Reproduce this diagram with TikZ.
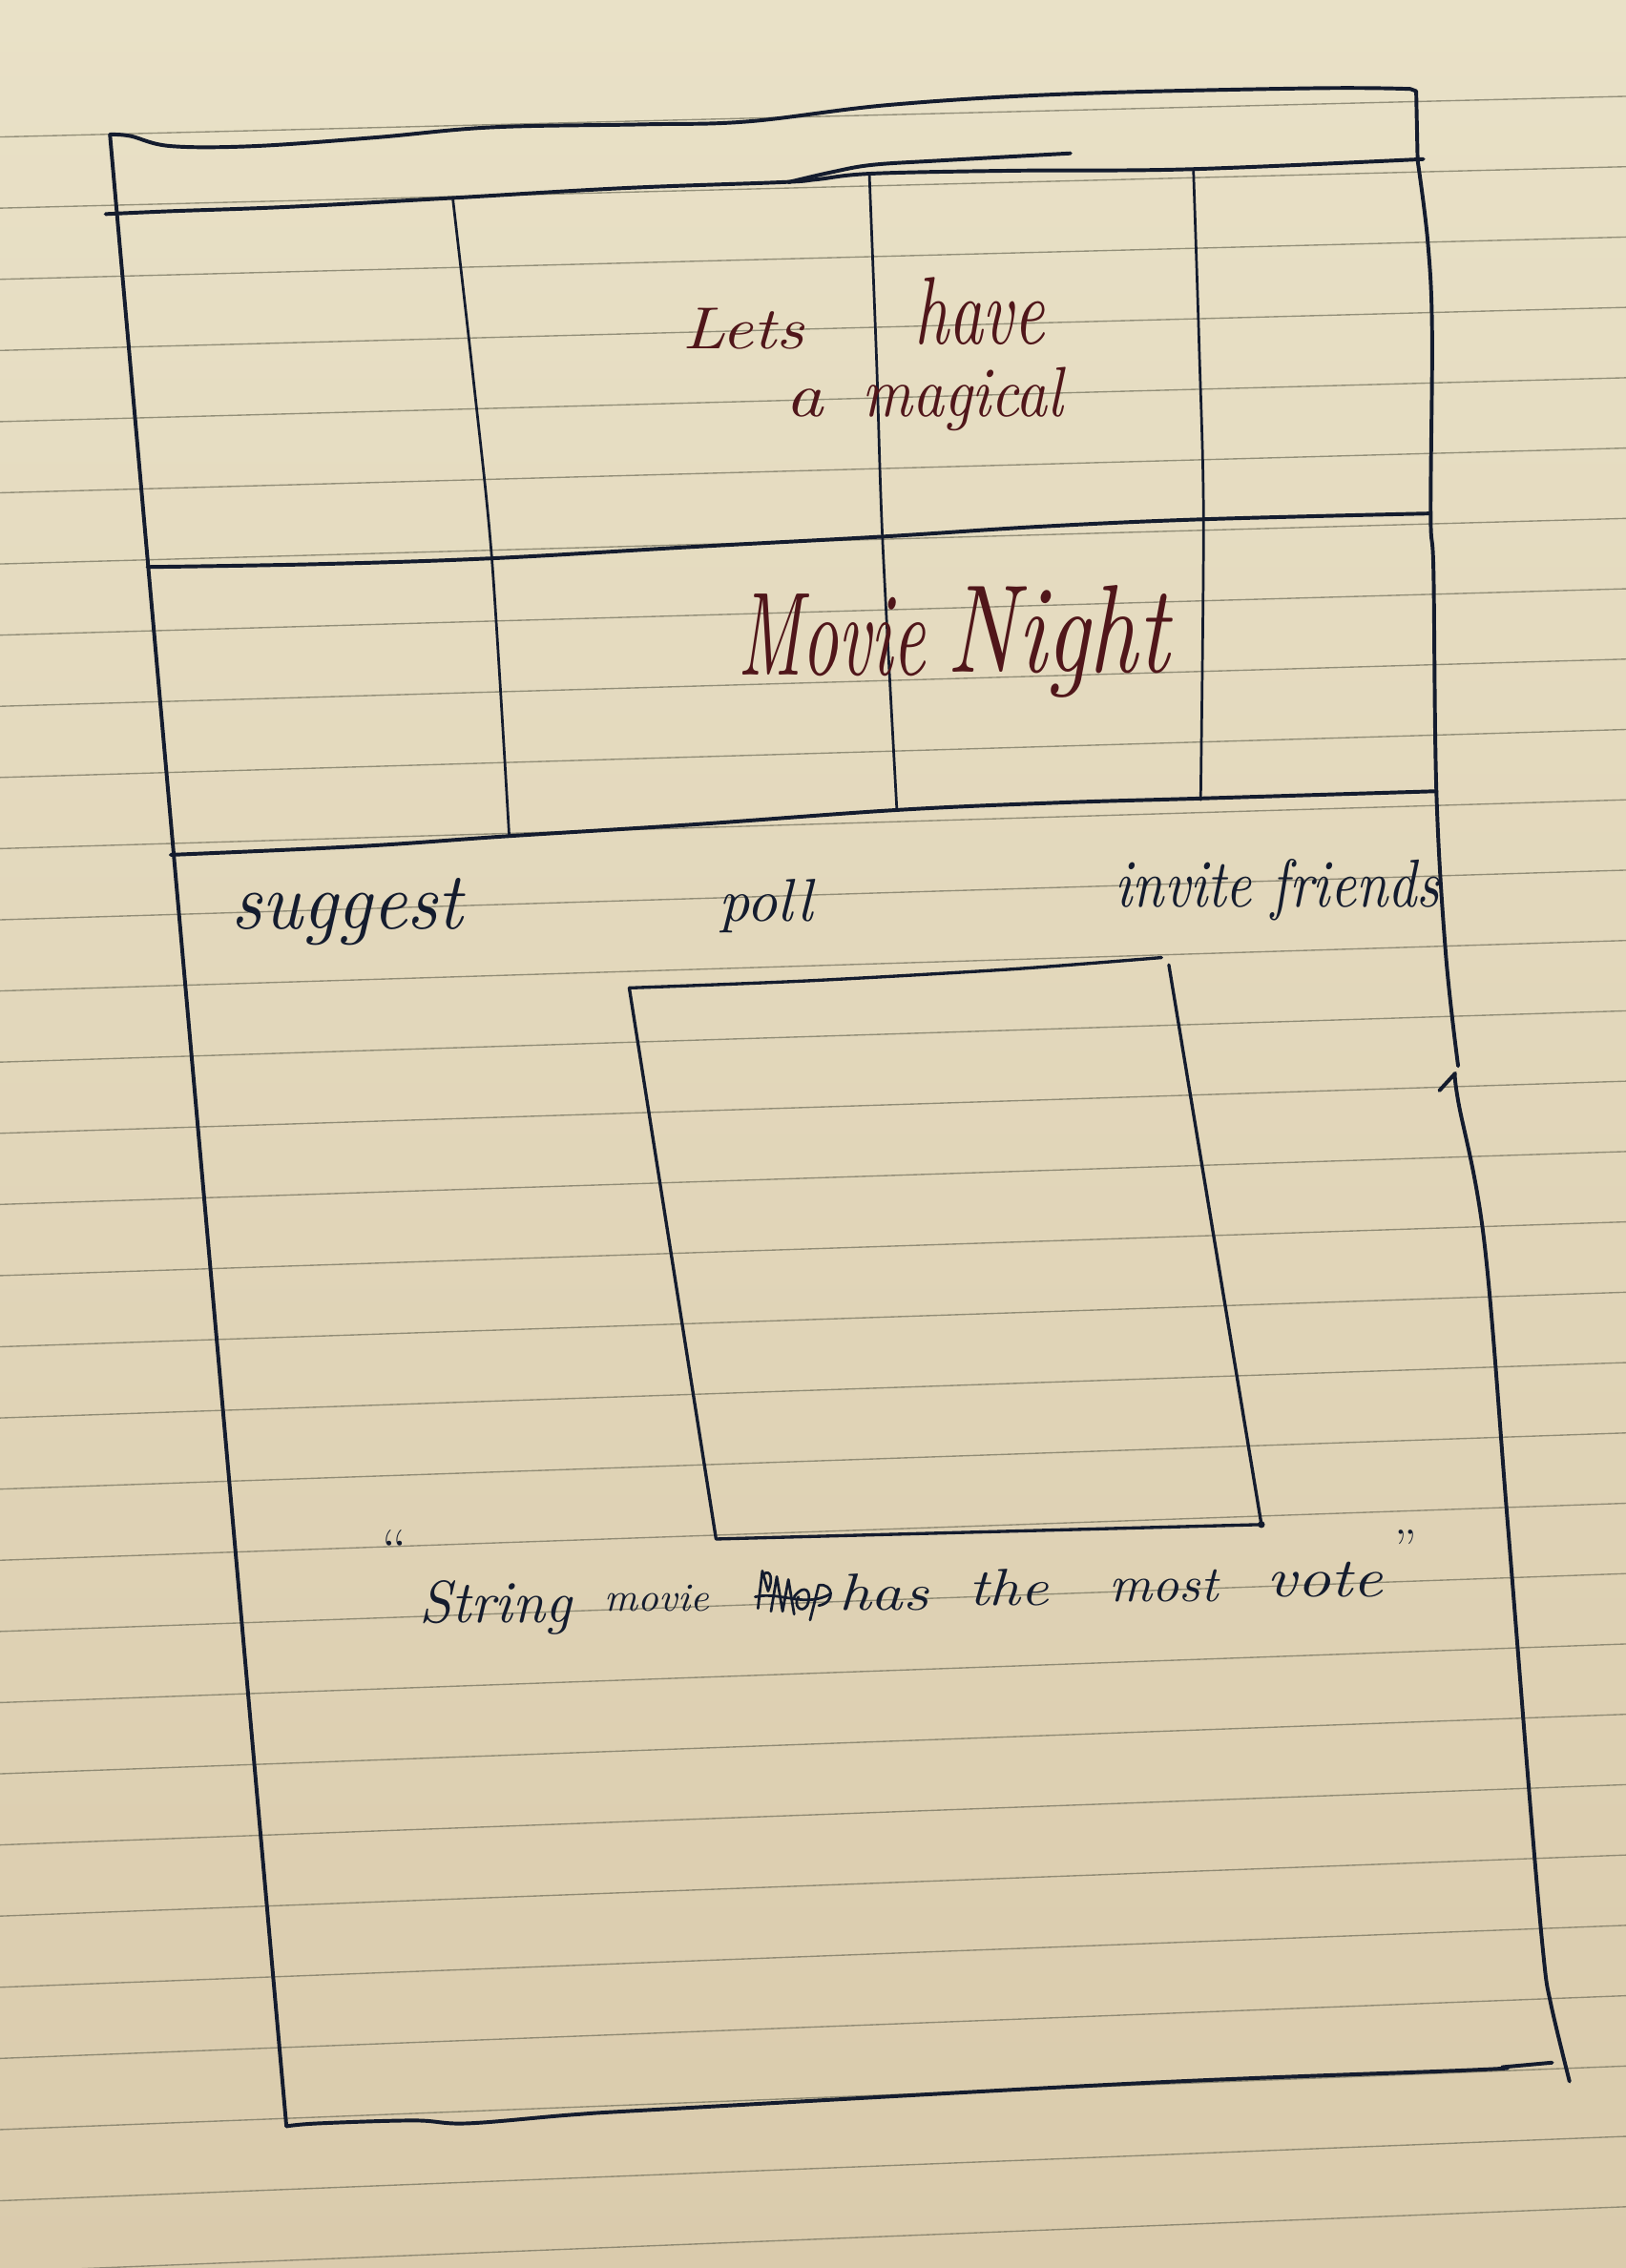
\documentclass[tikz,border=0pt]{standalone}
\usepackage{graphicx}
\definecolor{papertop}{RGB}{233,225,199}
\definecolor{paperbot}{RGB}{218,203,172}
\definecolor{ruleline}{RGB}{112,110,90}
\definecolor{ink}{RGB}{20,28,46}
\definecolor{brownink}{RGB}{80,22,26}
% a word squeezed to a given width and height (above the baseline)
\newcommand{\hand}[3]{\resizebox{#1pt}{#2pt}{\itshape #3}}
\begin{document}
\begin{tikzpicture}[x=1pt,y=-1pt,
  pen/.style={draw=ink, line width=2.6pt, line cap=round, line join=round},
  thinpen/.style={draw=ink, line width=1.8pt, line cap=round, line join=round},
  ruled/.style={draw=ruleline, line width=0.9pt, opacity=0.7},
  word/.style={anchor=base west, inner sep=0pt, outer sep=0pt, text=ink},
  brownword/.style={word, text=brownink}]
\useasboundingbox (0,0) rectangle (1124,1568);
\shade[top color=papertop, bottom color=paperbot] (0,0) rectangle (1124,1568);

% ruled lines of the notebook page
\foreach \k in {0,...,30}{
  \pgfmathsetmacro{\yl}{94.7+49.2*\k}
  \pgfmathsetmacro{\yr}{\yl-1124*(0.025+0.0005*\k)}
  \draw[ruled] (0,\yl) -- (1124,\yr);
}

% outer frame
\draw[pen] plot[smooth, tension=0.6] coordinates {(76,93) (90,94) (118,101) (176,101) (260,95) (340,88) (444,86) (517,84) (615,72.5) (737,65) (908,61) (975,61.5)};
\draw[pen] (975,61.5) -- (979,63) -- (980,111);
\draw[pen] plot[smooth, tension=0.6] coordinates {(73,148) (118,146) (200,143) (310,137) (432,130) (540,126) (565,124) (603,120) (700,118) (822,117) (984,110)};
\draw[pen] plot[smooth, tension=0.6] coordinates {(545,126) (575,119) (603,114) (650,111) (740,106)};
\draw[pen] (76,93) -- (198,1470);
\draw[pen] plot[smooth, tension=0.6] coordinates {(980,111) (987,167) (990,230) (989,355) (991,396) (993,548) (999.5,660) (1008,737)};
\draw[pen] (995,754) -- (1006,742) plot[smooth, tension=0.6] coordinates {(1006,742) (1008,761) (1026,858) (1042,1050) (1058,1250) (1067,1352) (1072,1385) (1085,1439)};
\draw[pen] plot[smooth, tension=0.6] coordinates {(198,1470) (220,1468) (286,1466) (323,1468) (396,1462) (462,1458) (792,1440) (1020,1431) (1040,1429) (1073,1426)};

% banner grid
\draw[pen] plot[smooth, tension=0.6] coordinates {(102,392) (220,390) (340,386) (480,378) (610,371) (720,364) (832,359) (988,355)};
\draw[pen] plot[smooth, tension=0.6] coordinates {(118,591) (250,585) (352,578) (480,570) (620,560) (730,555) (830,552) (993,547)};
\draw[thinpen] plot[smooth] coordinates {(313,137) (327,260) (340,386) (352,578)};
\draw[thinpen] plot[smooth] coordinates {(601,121) (606,250) (610,371) (620,560)};
\draw[thinpen] plot[smooth] coordinates {(825,117) (829,240) (832,359) (830,553)};

% poll box
\draw[pen, line width=2.2pt] plot[smooth, tension=0.5] coordinates {(435,683) (560,678) (700,670) (803,662)};
\draw[pen, line width=2.2pt] (808,667) -- (872,1054);
\draw[pen, line width=2.2pt] (435,683) -- (495,1064) -- (872,1054);
\fill[ink] (872,1054) circle (2.4);

% banner text
\node[brownword] (lets) at (472,241) {\hand{84}{28}{Lets}};
\node[brownword] (have) at (632,238) {\hand{90}{46}{have}};
\node[brownword] (a) at (543,288) {\hand{26}{19}{a}};
\node[brownword] (magical) at (596,288) {\hand{139}{34}{magical}};
\node[brownword] (movie) at (510,467) {\hand{130}{56}{Movie}};
\node[brownword] (night) at (655,465) {\hand{153}{60}{Night}};

% menu entries
\node[word] (suggest) at (160,642) {\hand{160}{35}{suggest}};
\node[word] (poll) at (497,637) {\hand{65}{29}{poll}};
\node[word] (invite) at (771,627) {\hand{224}{33}{invite friends}};

% result line
\node[word, anchor=north west, font=\fontsize{40}{40}\selectfont] (oq) at (264,1058) {``};
\node[word] (string) at (290,1122) {\hand{105}{29}{String}};
\node[word] (mv) at (418,1114) {\hand{72}{18}{movie}};
\draw[ink, line width=1.8pt, line join=round, line cap=round]
  (524,1112) -- (527,1086) -- (531,1100) .. controls (536,1088) and (530,1084) .. (527,1090)
  (533,1114) -- (537,1090) -- (541,1114) -- (545,1092) -- (549,1116)
  (549,1104) .. controls (556,1094) and (562,1100) .. (558,1110) .. controls (554,1116) and (548,1110) .. (552,1104)
  (560,1120) -- (566,1096) .. controls (576,1094) and (578,1108) .. (566,1110)
  (522,1104) .. controls (540,1100) and (556,1112) .. (574,1102);
\node[word] (has) at (580,1113) {\hand{62}{25}{has}};
\node[word] (the) at (670,1110) {\hand{55}{25}{the}};
\node[word] (most) at (767,1107) {\hand{75}{22}{most}};
\node[word] (vote) at (876,1104) {\hand{80}{24}{vote}};
\node[word, anchor=north west, font=\fontsize{36}{36}\selectfont] (cq) at (964,1058) {''};
\end{tikzpicture}
\end{document}
